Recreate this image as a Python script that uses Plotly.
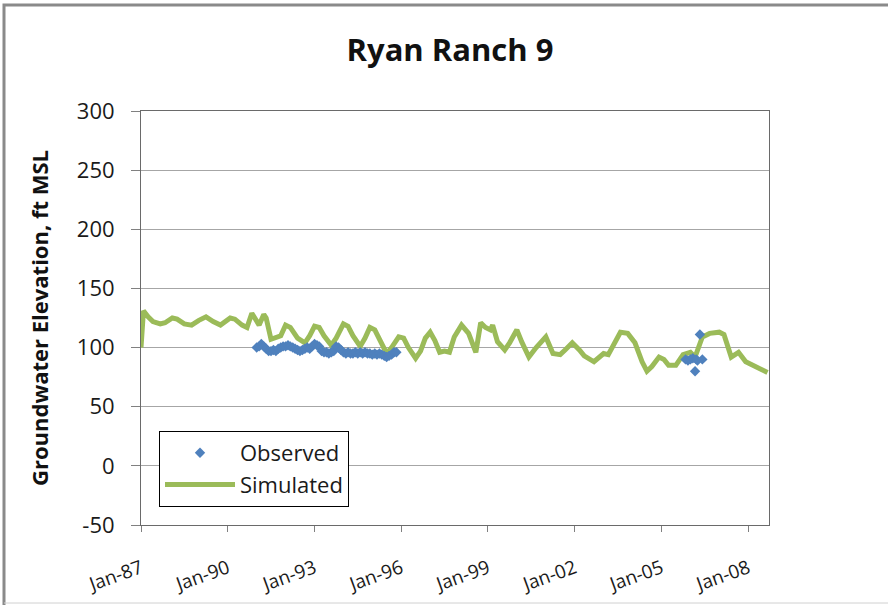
import plotly.graph_objects as go

# ---- Data ----
sim_dates = [
    "1987-01-01", "1987-02-01", "1987-04-01", "1987-06-01", "1987-09-01", "1987-11-01",
    "1988-02-01", "1988-04-01", "1988-07-01", "1988-10-01",
    "1989-01-01", "1989-04-01", "1989-07-01", "1989-10-01",
    "1990-02-01", "1990-04-01", "1990-07-01", "1990-09-01", "1990-11-01",
    "1991-01-01", "1991-02-01", "1991-04-01", "1991-05-01", "1991-07-01", "1991-09-01", "1991-11-01",
    "1992-01-01", "1992-03-01", "1992-06-01", "1992-09-01", "1992-11-01",
    "1993-01-01", "1993-03-01", "1993-05-01", "1993-08-01", "1993-10-01",
    "1994-01-01", "1994-03-01", "1994-05-01", "1994-08-01", "1994-10-01", "1994-12-01",
    "1995-02-01", "1995-04-01", "1995-07-01", "1995-09-01", "1995-12-01",
    "1996-02-01", "1996-04-01", "1996-07-01", "1996-09-01", "1996-11-01",
    "1997-01-01", "1997-03-01", "1997-05-01", "1997-07-01", "1997-09-01", "1997-11-01",
    "1998-02-01", "1998-05-01", "1998-08-01", "1998-10-01", "1998-12-01",
    "1999-02-01", "1999-03-01", "1999-05-01", "1999-08-01", "1999-10-01",
    "2000-01-01", "2000-03-01", "2000-06-01", "2000-09-01", "2000-11-01",
    "2001-01-01", "2001-04-01", "2001-07-01", "2001-09-01", "2001-12-01",
    "2002-03-01", "2002-05-01", "2002-09-01", "2002-11-01",
    "2003-01-01", "2003-03-01", "2003-06-01", "2003-08-01", "2003-11-01",
    "2004-02-01", "2004-05-01", "2004-07-01", "2004-09-01", "2004-12-01",
    "2005-02-01", "2005-04-01", "2005-07-01", "2005-10-01",
    "2006-01-01", "2006-03-01", "2006-06-01", "2006-09-01",
    "2007-01-01", "2007-03-01", "2007-06-01", "2007-09-01", "2007-12-01",
    "2008-03-01", "2008-05-01", "2008-07-01", "2008-09-01",
]
sim_values = [
    100, 131, 126, 122, 120, 121,
    125, 124, 120, 119,
    123, 126, 122, 119,
    125, 124, 119, 117, 129,
    121, 119, 128, 125, 107, 108, 110,
    119, 117, 108, 104, 110,
    118, 117, 110, 102, 108,
    120, 118, 110, 101, 108, 117,
    115, 107, 95, 100, 109,
    108, 100, 91, 97, 108,
    113, 106, 96, 97, 96, 109,
    119, 112, 96, 121, 117,
    115, 119, 105, 98, 104,
    115, 105, 92, 100, 104,
    109, 95, 94, 98, 104,
    98, 93, 88, 92,
    95, 94, 106, 113, 112,
    104, 88, 80, 84, 92,
    90, 85, 85, 94,
    96, 92, 109, 112,
    113, 111, 92, 96, 88,
    85, 84, 82, 79,
]

obs_dates = [
    "1991-01-01", "1991-02-01", "1991-03-01", "1991-04-01", "1991-05-01", "1991-06-01",
    "1991-07-01", "1991-08-01", "1991-09-01", "1991-10-01", "1991-11-01", "1991-12-01",
    "1992-01-01", "1992-02-01", "1992-03-01", "1992-04-01", "1992-05-01", "1992-06-01",
    "1992-07-01", "1992-08-01", "1992-09-01", "1992-10-01", "1992-11-01", "1992-12-01",
    "1993-01-01", "1993-02-01", "1993-03-01", "1993-04-01", "1993-05-01", "1993-06-01",
    "1993-07-01", "1993-08-01", "1993-09-01", "1993-10-01", "1993-11-01", "1993-12-01",
    "1994-01-01", "1994-02-01", "1994-03-01", "1994-04-01", "1994-05-01", "1994-06-01",
    "1994-07-01", "1994-08-01", "1994-09-01", "1994-10-01", "1994-11-01", "1994-12-01",
    "1995-01-01", "1995-02-01", "1995-03-01", "1995-04-01", "1995-05-01", "1995-06-01",
    "1995-07-01", "1995-08-01", "1995-09-01", "1995-10-01", "1995-11-01",
    "2005-11-01", "2005-12-01", "2006-01-01", "2006-02-01", "2006-03-01",
    "2006-03-15", "2006-04-01", "2006-05-01", "2006-06-01",
]
obs_values = [
    100, 101, 103, 101, 99, 97,
    97, 98, 97, 99, 100, 101,
    101, 102, 101, 100, 99, 98,
    97, 98, 99, 100, 99, 101,
    103, 102, 101, 97, 96, 96,
    95, 96, 97, 101, 100, 98,
    96, 95, 96, 95, 95, 96,
    95, 96, 95, 96, 95, 95,
    94, 95, 94, 95, 94, 93,
    92, 93, 94, 96, 96,
    90, 89, 90, 91, 80,
    90, 89, 111, 90,
]

x_ticks = ["1987-01-01", "1990-01-01", "1993-01-01", "1996-01-01",
           "1999-01-01", "2002-01-01", "2005-01-01", "2008-01-01"]
x_tick_labels = ["Jan-87", "Jan-90", "Jan-93", "Jan-96", "Jan-99", "Jan-02", "Jan-05", "Jan-08"]
y_ticks = [-50, 0, 50, 100, 150, 200, 250, 300]
y_tick_labels = ["-50", "0", "50", "100", "150", "200", "250", "300"]

title_text = "Ryan Ranch 9"
y_title = "Groundwater Elevation, ft MSL"

# ---- Figure ----
W, H = 888, 605
ML, MR, MT, MB = 141, 119, 111, 80
PW, PH = W - ML - MR, H - MT - MB

def px_x(p):
    return (p - ML) / PW

def px_y(p):
    return (H - MB - p) / PH

FONT = "Open Sans"

fig = go.Figure()
fig.add_trace(go.Scatter(
    x=sim_dates, y=sim_values, mode="lines", name="Simulated",
    line=dict(color="#9BBB59", width=5), legendrank=2,
))
fig.add_trace(go.Scatter(
    x=obs_dates, y=obs_values, mode="markers", name="Observed",
    marker=dict(symbol="diamond", color="#4F81BD", size=8), legendrank=1,
))

# outer chart-area frame: left and top edges (right side is cropped in the reference)
frame_path = "M {x0},{y0} L {x0},{y1} L {x1},{y1}".format(
    x0=px_x(4), y0=px_y(H + 5), y1=px_y(5), x1=px_x(W + 5))

fig.update_layout(
    width=W, height=H,
    margin=dict(l=ML, r=MR, t=MT, b=MB, autoexpand=False),
    paper_bgcolor="white", plot_bgcolor="white",
    font=dict(family=FONT, color="#1a1a1a"),
    title=dict(text=title_text, x=450 / W, xanchor="center", y=1 - 50 / H, yanchor="middle",
               font=dict(family=FONT, size=31, color="#111111", weight="bold")),
    showlegend=True,
    legend=dict(x=px_x(159), y=px_y(431), xanchor="left", yanchor="top",
                bordercolor="#000000", borderwidth=1, bgcolor="white",
                font=dict(family=FONT, size=22, color="#1a1a1a"),
                itemwidth=70, traceorder="normal"),
    shapes=[
        dict(type="path", xref="paper", yref="paper", path=frame_path,
             line=dict(color="#8a8a8a", width=3), layer="below"),
        dict(type="line", xref="paper", yref="paper",
             x0=px_x(4), x1=px_x(W + 5), y0=px_y(603), y1=px_y(603),
             line=dict(color="#d0d0d0", width=1), layer="below"),
    ],
)

fig.update_xaxes(
    type="date", range=["1987-01-01", "2008-09-20"],
    tickvals=x_ticks, ticktext=x_tick_labels, tickangle=-20,
    ticks="outside", ticklen=6, tickcolor="#808080", ticklabelstandoff=18,
    showline=True, linecolor="#6a6a6a", linewidth=1, mirror=True,
    showgrid=False, zeroline=False,
    tickfont=dict(family=FONT, size=19, color="#1a1a1a"),
)
fig.update_yaxes(
    range=[-50, 300], tickvals=y_ticks, ticktext=y_tick_labels,
    ticks="outside", ticklen=9, tickcolor="#808080", ticklabelstandoff=12,
    showline=True, linecolor="#6a6a6a", linewidth=1, mirror=True,
    showgrid=True, gridcolor="#a6a6a6", gridwidth=1, zeroline=False,
    tickfont=dict(family=FONT, size=22, color="#1a1a1a"),
    title=dict(text=y_title, standoff=22, font=dict(family=FONT, size=22, color="#111111", weight="bold")),
)

fig.write_html("out.html", config={"displayModeBar": False},
               post_script="document.body.style.margin='0';")
